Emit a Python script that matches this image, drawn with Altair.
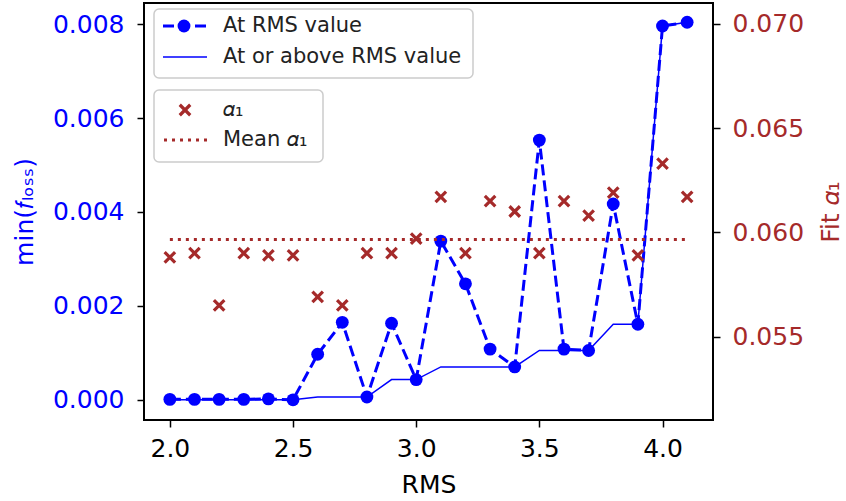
import altair as alt
import pandas as pd

# ---- data ----
rms = [2.0, 2.1, 2.2, 2.3, 2.4, 2.5, 2.6, 2.7, 2.8, 2.9, 3.0,
       3.1, 3.2, 3.3, 3.4, 3.5, 3.6, 3.7, 3.8, 3.9, 4.0, 4.1]
floss_at = [0.00001, 0.00001, 0.00001, 0.00001, 0.00002, 0.00000, 0.00097,
            0.00165, 0.00006, 0.00163, 0.00043, 0.00338, 0.00247, 0.00108,
            0.00070, 0.00553, 0.00108, 0.00105, 0.00417, 0.00161, 0.00796,
            0.00804]
floss_above = [0.00000, 0.00000, 0.00000, 0.00000, 0.00000, 0.00000, 0.00006,
               0.00006, 0.00006, 0.00043, 0.00043, 0.00070, 0.00070, 0.00070,
               0.00070, 0.00105, 0.00105, 0.00105, 0.00161, 0.00161, 0.00796,
               0.00804]
alpha1 = [0.0588, 0.0590, 0.0565, 0.0590, 0.0589, 0.0589, 0.0569, 0.0565,
          0.0590, 0.0590, 0.0597, 0.0617, 0.0590, 0.0615, 0.0610, 0.0590,
          0.0615, 0.0608, 0.0619, 0.0589, 0.0633, 0.0617]

x_ticks = [2.0, 2.5, 3.0, 3.5, 4.0]
left_ticks = [0.000, 0.002, 0.004, 0.006, 0.008]
right_ticks = [0.055, 0.060, 0.065, 0.070]

legend1_labels = ["At RMS value", "At or above RMS value"]
legend2_labels = ["\U0001D6FC\u2081", "Mean \U0001D6FC\u2081"]

df = pd.DataFrame({"rms": rms, "at": floss_at, "above": floss_above,
                   "alpha": alpha1})

FONT = "DejaVu Sans"
BLUE = "#0000ff"
BROWN = "#a52a2a"
FS = 25
LFS = 21

xscale = alt.Scale(domain=[1.895, 4.205], nice=False, zero=False)
xaxis = alt.Axis(values=x_ticks, format=".1f", title="RMS", grid=False,
                 domain=False, tickColor="black", tickWidth=1.5, tickSize=7,
                 labelFontSize=FS, titleFontSize=FS, labelFont=FONT,
                 titleFont=FONT, labelColor="black", titleColor="black",
                 titleFontWeight="normal", labelPadding=9, titlePadding=11)
X = alt.X("rms:Q", scale=xscale, axis=xaxis)

lscale = alt.Scale(domain=[-0.00043, 0.00845], nice=False, zero=False)
laxis = alt.Axis(values=left_ticks, format=".3f", orient="left",
                 title="min(\U0001D453\u2097\u2092\u209b\u209b)", grid=False,
                 domain=False, tickColor="black", tickWidth=1.5, tickSize=7,
                 labelFontSize=FS, titleFontSize=FS, labelFont=FONT,
                 titleFont=FONT, labelColor=BLUE, titleColor=BLUE,
                 titleFontWeight="normal", labelPadding=13, titlePadding=15)

rscale = alt.Scale(domain=[0.051, 0.071], nice=False, zero=False)
raxis = alt.Axis(values=right_ticks, format=".3f", orient="right",
                 title="Fit \U0001D6FC\u2081", grid=False,
                 domain=False, tickColor="black", tickWidth=1.5, tickSize=7,
                 labelFontSize=FS, titleFontSize=FS, labelFont=FONT,
                 titleFont=FONT, labelColor=BROWN, titleColor=BROWN,
                 titleFontWeight="normal", labelPadding=12, titlePadding=15,
                 titleAngle=270, titleBaseline="top")

base = alt.Chart(df)

thin = base.mark_line(color=BLUE, strokeWidth=1.5).encode(
    x=X, y=alt.Y("above:Q", scale=lscale, axis=laxis))
dashed = base.mark_line(color=BLUE, strokeWidth=3, strokeDash=[11, 5]).encode(
    x=X, y=alt.Y("at:Q", scale=lscale, axis=laxis))
dots = base.mark_circle(color=BLUE, size=165, opacity=1).encode(
    x=X, y=alt.Y("at:Q", scale=lscale, axis=laxis))
left = alt.layer(thin, dashed, dots)

mean_rule = base.transform_aggregate(
    mean_alpha="mean(alpha)", xmin="min(rms)", xmax="max(rms)"
).mark_rule(color=BROWN, strokeWidth=3, strokeDash=[3, 5]).encode(
    x=alt.X("xmin:Q", scale=xscale, axis=xaxis),
    x2="xmax:Q",
    y=alt.Y("mean_alpha:Q", scale=rscale, axis=raxis))
crosses = base.mark_point(shape="M-1,-1L1,1M-1,1L1,-1", filled=False,
                          color=BROWN, strokeWidth=3.2, size=110,
                          opacity=1).encode(
    x=X, y=alt.Y("alpha:Q", scale=rscale, axis=raxis))
right = alt.layer(mean_rule, crosses)

# ---- manual legends (pixel positions inside the plot area) ----
leg = alt.Chart(pd.DataFrame({"k": [0]}))


def box(x1, x2, y1, y2):
    return leg.mark_rect(fill="white", fillOpacity=0.8, stroke="#cccccc",
                         strokeWidth=1.5, cornerRadius=5).encode(
        x=alt.value(x1), x2=alt.value(x2), y=alt.value(y1), y2=alt.value(y2))


def label(txt, x, y):
    return leg.mark_text(text=txt, align="left", baseline="middle",
                         font=FONT, fontSize=LFS, color="#222222").encode(
        x=alt.value(x), y=alt.value(y))


b1 = box(10, 329, 6, 75)
s1 = leg.mark_rule(color=BLUE, strokeWidth=3, strokeDash=[11, 5]).encode(
    x=alt.value(19), x2=alt.value(63), y=alt.value(23))
s1p = leg.mark_circle(color=BLUE, size=165, opacity=1).encode(
    x=alt.value(40), y=alt.value(23))
s2 = leg.mark_rule(color=BLUE, strokeWidth=1.5).encode(
    x=alt.value(19), x2=alt.value(63), y=alt.value(54))
t1 = label(legend1_labels[0], 79, 23)
t2 = label(legend1_labels[1], 79, 54)

b2 = box(10, 179, 87, 159)
s3 = leg.mark_point(shape="M-1,-1L1,1M-1,1L1,-1", filled=False, color=BROWN,
                    strokeWidth=3.2, size=110, opacity=1).encode(
    x=alt.value(41), y=alt.value(107))
s4 = leg.mark_rule(color=BROWN, strokeWidth=3, strokeDash=[3, 5]).encode(
    x=alt.value(20), x2=alt.value(63), y=alt.value(137))
t3 = label(legend2_labels[0], 79, 107)
t4 = label(legend2_labels[1], 79, 137)

chart = alt.layer(
    left, right, b1, s1, s1p, s2, t1, t2, b2, s3, s4, t3, t4
).resolve_scale(y="independent").properties(
    width=569, height=417,
    padding={"left": 144, "top": 3, "right": 133, "bottom": 81},
    autosize=alt.AutoSizeParams(type="none"),
    background="white",
).configure_view(stroke="black", strokeWidth=2).configure_axis(
    labelFont=FONT, titleFont=FONT)

chart.save("out.html", embed_options={"renderer": "svg", "actions": False})
